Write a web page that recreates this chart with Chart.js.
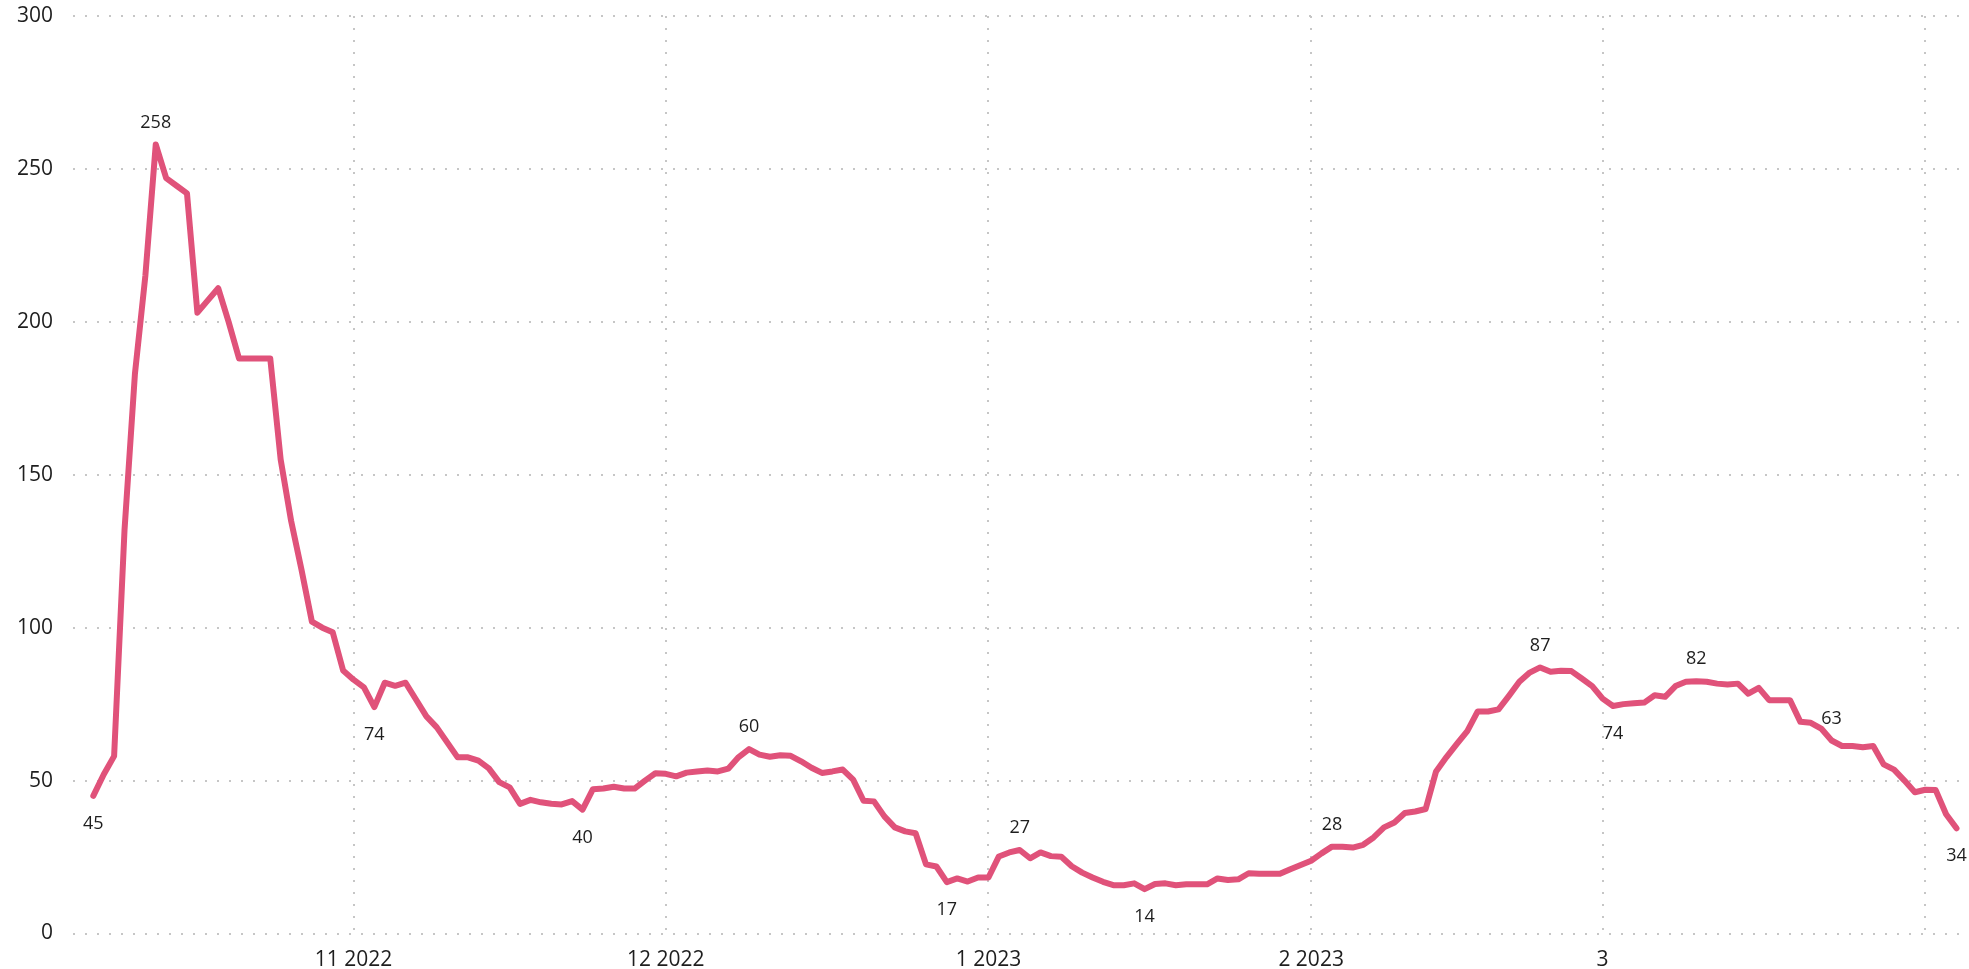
<!DOCTYPE html>
<html>
<head>
<meta charset="utf-8">
<script src="https://cdn.jsdelivr.net/npm/chart.js@4/dist/chart.umd.min.js"></script>
<style>
  html, body { margin: 0; padding: 0; background: #ffffff; }
  #wrap { width: 1969px; height: 969px; }
</style>
</head>
<body>
<div id="wrap"><canvas id="c" width="1969" height="969"></canvas></div>
<script>
// Daily values, 7 Oct 2022 (index 0) to 4 Apr 2023 (index 179)
const startDate = "2022-10-07";
const values = [
  45, 52, 58, 132, 183, 215, 258, 247, 244.5, 242,
  203, 207, 211, 200, 188, 188, 188, 188, 155, 135,
  119, 102, 100, 98.5, 86, 83, 80.5, 74, 82, 81,
  82, 76.5, 71, 67.4, 62.5, 57.6, 57.6, 56.5, 54, 49.5,
  47.8, 42.4, 43.7, 42.9, 42.4, 42.2, 43.3, 40.5, 47.2, 47.4,
  48, 47.4, 47.4, 50, 52.4, 52.2, 51.4, 52.6, 53, 53.3,
  53, 53.9, 57.7, 60.3, 58.5, 57.8, 58.3, 58.1, 56.3, 54.2,
  52.5, 53, 53.6, 50.3, 43.4, 43.2, 38.3, 34.7, 33.4, 32.8,
  22.6, 21.9, 16.8, 18, 17, 18.3, 18.3, 25.2, 26.5, 27.3,
  24.6, 26.5, 25.3, 25.1, 22, 19.9, 18.3, 16.9, 15.8, 15.8,
  16.4, 14.5, 16.2, 16.4, 15.8, 16.1, 16.1, 16.1, 18, 17.5,
  17.7, 19.7, 19.5, 19.5, 19.5, 21, 22.4, 23.8, 26.2, 28.4,
  28.4, 28.1, 29, 31.4, 34.7, 36.3, 39.4, 39.9, 40.7, 53,
  57.7, 62, 66.2, 72.6, 72.6, 73.3, 77.7, 82.3, 85.3, 87,
  85.6, 85.9, 85.8, 83.4, 80.9, 76.8, 74.4, 75, 75.3, 75.5,
  77.9, 77.4, 80.9, 82.3, 82.5, 82.3, 81.7, 81.4, 81.7, 78.4,
  80.3, 76.3, 76.3, 76.3, 69.2, 68.9, 67, 63.1, 61.3, 61.3,
  60.9, 61.3, 55.3, 53.6, 50, 46.2, 47, 46.9, 39, 34.4
];

// Month-start tick positions (day index) and their labels
const monthTickIndex = [25, 55, 86, 117, 145, 176];
const monthTickLabels = ["11 2022", "12 2022", "1 2023", "2 2023", "3", ""];

// Y axis ticks
const yTicks = [0, 50, 100, 150, 200, 250, 300];

// Annotated points: [index, text, position]
const labelIndex = [0, 6, 27, 47, 63, 82, 89, 101, 119, 139, 146, 154, 167, 179];
const labelText  = ["45", "258", "74", "40", "60", "17", "27", "14", "28", "87", "74", "82", "63", "34"];
const labelPos   = ["below", "above", "below", "below", "above", "below", "above", "below", "above", "above", "below", "above", "above", "below"];

const lineColor = "#E0527A";
const textColor = "#1e1e1e";
const gridColor = "#c6c6c6";
const fontFamily = "'Open Sans', 'Noto Sans', sans-serif";

const points = values.map((v, i) => ({ x: i, y: v }));

const pointLabels = {
  id: "pointLabels",
  afterDatasetsDraw(chart) {
    const ctx = chart.ctx;
    const xs = chart.scales.x, ys = chart.scales.y;
    ctx.save();
    ctx.fillStyle = textColor;
    ctx.font = "18px " + fontFamily;
    ctx.textAlign = "center";
    ctx.textBaseline = "middle";
    labelIndex.forEach((idx, k) => {
      const px = xs.getPixelForValue(idx);
      const py = ys.getPixelForValue(values[idx]);
      const dy = labelPos[k] === "above" ? -22 : 28;
      ctx.fillText(labelText[k], px, py + dy);
    });
    ctx.restore();
  }
};

new Chart(document.getElementById("c"), {
  type: "line",
  data: {
    datasets: [{
      data: points,
      borderColor: lineColor,
      borderWidth: 6,
      pointRadius: 0,
      tension: 0,
      fill: false,
      borderJoinStyle: "round",
      borderCapStyle: "round"
    }]
  },
  options: {
    responsive: false,
    devicePixelRatio: 1,
    animation: false,
    layout: { padding: { top: 16, right: 0, bottom: 0, left: 0 } },
    plugins: { legend: { display: false }, tooltip: { enabled: false } },
    scales: {
      x: {
        type: "linear",
        min: -1.95,
        max: 180.2,
        afterBuildTicks(scale) {
          scale.ticks = monthTickIndex.map(v => ({ value: v }));
        },
        afterFit(scale) {
          scale.height = 35.5;
          scale.paddingLeft = 0; scale.paddingRight = 0;
        },
        ticks: {
          autoSkip: false,
          maxRotation: 0,
          padding: 14,
          color: textColor,
          font: { family: fontFamily, size: 21 },
          callback(value) {
            const k = monthTickIndex.indexOf(value);
            return k >= 0 ? monthTickLabels[k] : "";
          }
        },
        grid: { color: gridColor, lineWidth: 2, drawTicks: false, borderDash: [2, 10] },
        border: { display: false, dash: [2, 10] }
      },
      y: {
        min: 0,
        max: 300,
        afterBuildTicks(scale) {
          scale.ticks = yTicks.map(v => ({ value: v }));
        },
        afterFit(scale) {
          scale.width = 73;
          scale.paddingTop = 0; scale.paddingBottom = 0;
        },
        ticks: {
          padding: 20,
          color: textColor,
          font: { family: fontFamily, size: 21 }
        },
        grid: { color: gridColor, lineWidth: 2, drawTicks: false, borderDash: [2, 10] },
        border: { display: false, dash: [2, 10] }
      }
    }
  },
  plugins: [pointLabels]
});
</script>
</body>
</html>
